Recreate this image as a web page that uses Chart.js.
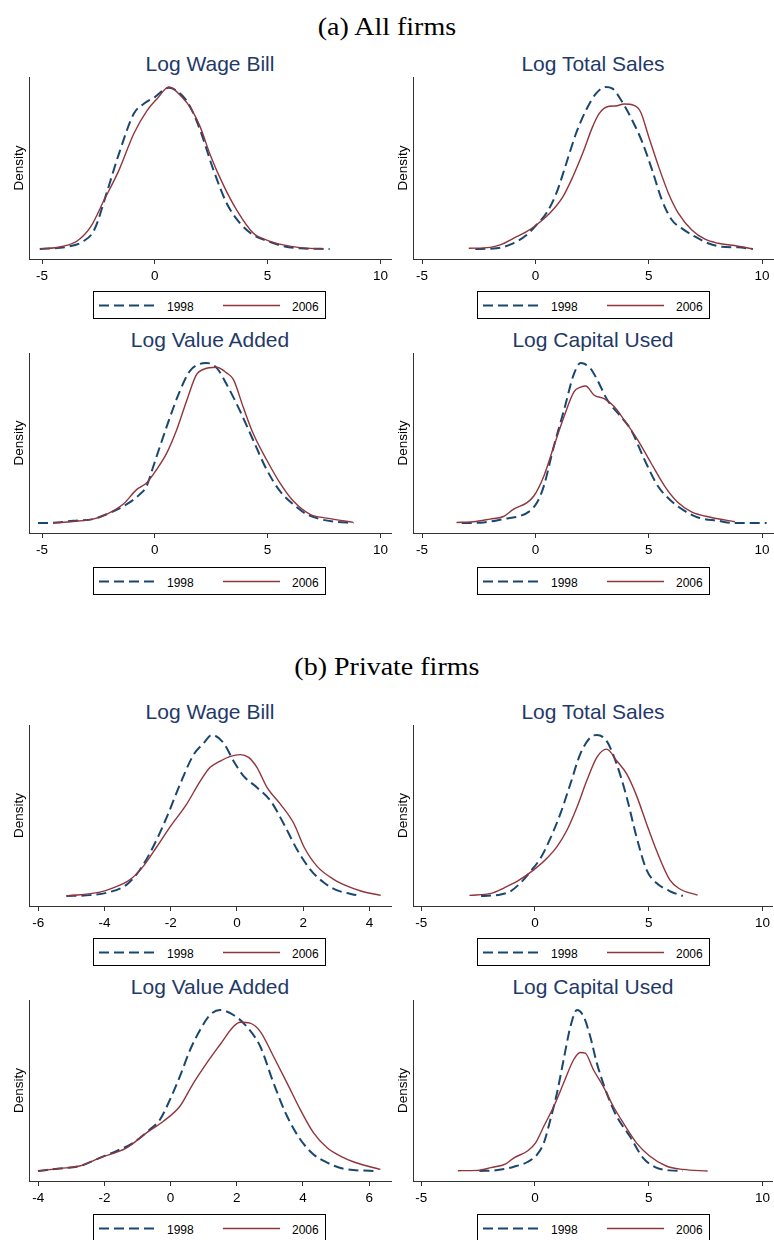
<!DOCTYPE html>
<html>
<head>
<meta charset="utf-8">
<script src="https://cdn.jsdelivr.net/npm/chart.js@4.4.0/dist/chart.umd.min.js"></script>
<style>
  body { margin: 0; width: 774px; height: 1240px; overflow: hidden; background: #fff; position: relative;
         font-family: "Liberation Sans", Arial, sans-serif; }
  canvas { position: absolute; }
  .head { position: absolute; left: 0; width: 774px; text-align: center; font-family: "Liberation Serif", "Times New Roman", serif;
          font-size: 25px; line-height: 25px; transform: scaleX(1.12); transform-origin: 388px 0; color: #000; }
  .ptitle { position: absolute; text-align: center; color: #1f3a68; font-size: 21px; line-height: 21px; white-space: nowrap; }
  .legend { position: absolute; width: 233px; height: 28px; }
</style>
</head>
<body>
<script>
// series labels and panel text
var years = ['1998', '2006'];
var sectionHeads = ['(a) All firms', '(b) Private firms'];
var varTitles = ['Log Wage Bill', 'Log Total Sales', 'Log Value Added', 'Log Capital Used'];

// x tick labels
var ticksAll = [-5, 0, 5, 10];
var ticksWagePriv = [-6, -4, -2, 0, 2, 4];
var ticksVAPriv = [-4, -2, 0, 2, 4, 6];

// kernel density curves, [log value, density relative to the 1998 peak]
var allWage1998 = [[-5.1,0],[-3.87,0.014],[-3.2,0.045],[-2.69,0.117],[-2.1,0.363],[-1.59,0.589],[-0.93,0.836],[-0.49,0.897],[0,0.938],[0.62,0.996],[1.2,0.949],[1.57,0.877],[2.01,0.733],[2.6,0.487],[3.19,0.281],[3.78,0.158],[4.37,0.086],[4.96,0.051],[5.69,0.018],[6.43,0.004],[7.75,0]];
var allWage2006 = [[-5.1,0],[-4.16,0.014],[-3.43,0.051],[-2.84,0.138],[-2.25,0.302],[-1.59,0.487],[-0.93,0.713],[-0.34,0.856],[0.1,0.928],[0.62,1],[1.2,0.938],[1.65,0.856],[2.01,0.754],[2.46,0.579],[3.04,0.394],[3.63,0.24],[4.37,0.097],[4.96,0.055],[5.69,0.025],[6.43,0.008],[7.46,0]];

var allSales1998 = [[-2.65,0],[-1.71,0.004],[-0.98,0.035],[-0.39,0.086],[0.04,0.148],[0.48,0.22],[0.92,0.343],[1.36,0.528],[1.79,0.713],[2.23,0.856],[2.67,0.959],[3.1,1],[3.4,0.99],[3.83,0.908],[4.27,0.795],[4.71,0.661],[5.15,0.487],[5.58,0.302],[6.02,0.179],[6.46,0.127],[7.04,0.076],[7.62,0.035],[8.21,0.014],[8.94,0.01],[9.59,0]];
var allSales2006 = [[-2.94,0.004],[-2,0.01],[-1.56,0.025],[-0.83,0.076],[-0.39,0.107],[0.04,0.148],[0.63,0.22],[1.21,0.322],[1.65,0.446],[2.08,0.589],[2.52,0.754],[2.81,0.836],[3.25,0.881],[3.54,0.883],[3.91,0.895],[4.35,0.887],[4.64,0.846],[5,0.692],[5.44,0.507],[5.87,0.343],[6.31,0.22],[6.9,0.117],[7.48,0.06],[8.06,0.035],[8.79,0.021],[9.59,0]];

var allVA1998 = [[-5.18,0],[-4.51,0.002],[-3.62,0.014],[-2.74,0.025],[-2.14,0.055],[-1.26,0.117],[-0.67,0.179],[-0.37,0.23],[-0.07,0.353],[0.22,0.476],[0.67,0.661],[1.11,0.825],[1.55,0.949],[2,0.994],[2.29,1],[2.74,0.969],[3.18,0.867],[3.77,0.702],[4.36,0.517],[4.96,0.333],[5.55,0.199],[6.14,0.117],[6.73,0.055],[7.32,0.025],[7.91,0.01],[8.8,0]];
var allVA2006 = [[-4.51,0],[-3.62,0.01],[-2.74,0.025],[-2.14,0.055],[-1.41,0.117],[-0.81,0.209],[-0.37,0.25],[0.07,0.333],[0.52,0.435],[0.96,0.579],[1.41,0.764],[1.85,0.928],[2.14,0.959],[2.74,0.973],[3.18,0.938],[3.48,0.897],[3.92,0.723],[4.36,0.559],[4.96,0.394],[5.55,0.25],[6.14,0.138],[6.88,0.055],[7.62,0.031],[8.8,0.004]];

var allCap1998 = [[-3.25,0],[-2.29,0.004],[-1.41,0.025],[-0.67,0.045],[-0.3,0.07],[0.07,0.128],[0.37,0.231],[0.81,0.478],[1.26,0.705],[1.7,0.932],[2,1],[2.44,0.963],[2.74,0.891],[3.18,0.767],[3.77,0.664],[4.22,0.581],[4.81,0.396],[5.4,0.231],[5.99,0.138],[6.58,0.076],[7.17,0.035],[8.06,0.014],[8.8,0],[10.2,0]];
var allCap2006 = [[-3.48,0.004],[-2.74,0.008],[-2,0.025],[-1.41,0.041],[-0.96,0.087],[-0.37,0.128],[-0.07,0.169],[0.37,0.293],[0.81,0.478],[1.26,0.664],[1.7,0.819],[2,0.849],[2.22,0.856],[2.59,0.798],[3.03,0.777],[3.48,0.726],[3.92,0.643],[4.51,0.52],[5.1,0.375],[5.7,0.231],[6.29,0.128],[6.88,0.07],[7.77,0.035],[8.8,0.008]];

var privWage1998 = [[-5.15,0],[-4.55,0.004],[-3.94,0.02],[-3.33,0.071],[-2.93,0.163],[-2.53,0.306],[-2.12,0.49],[-1.72,0.694],[-1.31,0.878],[-1.01,0.949],[-0.76,1],[-0.4,0.949],[-0.1,0.837],[0.2,0.745],[0.61,0.673],[1.01,0.592],[1.41,0.449],[1.82,0.286],[2.22,0.163],[2.63,0.082],[3.03,0.035],[3.64,0.004]];
var privWage2006 = [[-5.15,0],[-4.14,0.024],[-3.74,0.051],[-3.23,0.102],[-2.83,0.184],[-2.42,0.306],[-2.02,0.429],[-1.52,0.571],[-1.11,0.714],[-0.81,0.8],[-0.51,0.837],[-0.2,0.867],[0.1,0.878],[0.35,0.861],[0.61,0.796],[0.91,0.673],[1.31,0.571],[1.72,0.449],[2.02,0.306],[2.42,0.184],[2.93,0.102],[3.33,0.061],[3.74,0.031],[4.34,0.004]];

var privSales1998 = [[-2.37,0],[-1.5,0.01],[-1.06,0.031],[-0.63,0.082],[-0.19,0.154],[0.25,0.236],[0.68,0.359],[1.12,0.512],[1.56,0.697],[1.99,0.881],[2.43,0.984],[2.72,1],[3.15,0.963],[3.59,0.82],[4.03,0.615],[4.46,0.369],[4.9,0.164],[5.33,0.082],[5.92,0.031],[6.5,0]];
var privSales2006 = [[-2.88,0.004],[-1.93,0.016],[-1.35,0.051],[-0.77,0.092],[-0.04,0.164],[0.54,0.236],[0.97,0.307],[1.41,0.41],[1.85,0.553],[2.28,0.717],[2.72,0.861],[3.15,0.912],[3.59,0.84],[4.03,0.758],[4.46,0.625],[4.9,0.451],[5.33,0.287],[5.92,0.102],[6.35,0.045],[7.15,0.006]];

var privVA1998 = [[-4.01,0],[-3.35,0.016],[-2.75,0.031],[-2.14,0.082],[-1.64,0.124],[-1.13,0.175],[-0.63,0.258],[-0.32,0.32],[-0.02,0.443],[0.28,0.588],[0.59,0.753],[0.89,0.876],[1.19,0.969],[1.49,1],[1.9,0.969],[2.3,0.897],[2.71,0.773],[3.11,0.546],[3.52,0.34],[3.92,0.196],[4.32,0.103],[4.73,0.052],[5.23,0.014],[6.14,0]];
var privVA2006 = [[-4.01,0],[-3.35,0.016],[-2.75,0.031],[-2.14,0.082],[-1.33,0.144],[-0.73,0.237],[-0.22,0.309],[0.28,0.402],[0.69,0.546],[1.09,0.67],[1.49,0.784],[1.9,0.897],[2.1,0.924],[2.4,0.918],[2.71,0.866],[3.11,0.711],[3.52,0.546],[3.92,0.381],[4.32,0.237],[4.73,0.144],[5.13,0.093],[5.54,0.056],[5.94,0.031],[6.34,0.01]];

var privCap1998 = [[-2.44,0],[-1.64,0.006],[-0.92,0.027],[-0.33,0.056],[0.1,0.103],[0.39,0.175],[0.68,0.32],[0.97,0.485],[1.26,0.691],[1.56,0.897],[1.85,1],[2.14,0.959],[2.43,0.835],[2.72,0.67],[3.15,0.485],[3.59,0.34],[4.17,0.216],[4.75,0.082],[5.33,0.021],[5.92,0.004],[6.5,0]];
var privCap2006 = [[-3.39,0.002],[-2.51,0.004],[-1.93,0.021],[-1.28,0.045],[-0.92,0.082],[-0.33,0.124],[0.03,0.175],[0.39,0.278],[0.83,0.402],[1.26,0.546],[1.7,0.691],[1.99,0.736],[2.21,0.732],[2.57,0.629],[3,0.526],[3.44,0.402],[3.88,0.299],[4.46,0.175],[5.04,0.093],[5.77,0.031],[6.5,0.01],[7.59,0]];

var blue = '#1a476f';
var red = '#90353b';
var axisColor = '#333';

// page layout: plot-area rows (y-axis top / x-axis line) and columns
var rows = [
  { top: 77, bottom: 259, legend: 291 },
  { top: 353, bottom: 533, legend: 567 },
  { top: 725, bottom: 906, legend: 938 },
  { top: 1000, bottom: 1181, legend: 1214 }
];
var cols = [
  { canvasLeft: 0, canvasWidth: 392, legendLeft: 93 },
  { canvasLeft: 384, canvasWidth: 390, legendLeft: 477 }
];
var headTops = [14, 654];

var panels = [
  { row: 0, col: 0, title: varTitles[0], s98: allWage1998, s06: allWage2006, ticks: ticksAll, xmin: -5.58, xmax: 10.47 },
  { row: 0, col: 1, title: varTitles[1], s98: allSales1998, s06: allSales2006, ticks: ticksAll, xmin: -5.4, xmax: 10.48 },
  { row: 1, col: 0, title: varTitles[2], s98: allVA1998, s06: allVA2006, ticks: ticksAll, xmin: -5.58, xmax: 10.47 },
  { row: 1, col: 1, title: varTitles[3], s98: allCap1998, s06: allCap2006, ticks: ticksAll, xmin: -5.4, xmax: 10.48 },
  { row: 2, col: 0, title: varTitles[0], s98: privWage1998, s06: privWage2006, ticks: ticksWagePriv, xmin: -6.28, xmax: 4.65 },
  { row: 2, col: 1, title: varTitles[1], s98: privSales1998, s06: privSales2006, ticks: ticksAll, xmin: -5.36, xmax: 10.42 },
  { row: 3, col: 0, title: varTitles[2], s98: privVA1998, s06: privVA2006, ticks: ticksVAPriv, xmin: -4.28, xmax: 6.66 },
  { row: 3, col: 1, title: varTitles[3], s98: privCap1998, s06: privCap2006, ticks: ticksAll, xmin: -5.36, xmax: 10.42 }
];

function toPoints(arr) {
  return arr.map(function (p) { return { x: p[0], y: p[1] }; });
}

sectionHeads.forEach(function (txt, i) {
  var h = document.createElement('div');
  h.className = 'head';
  h.style.top = headTops[i] + 'px';
  h.textContent = txt;
  document.body.appendChild(h);
});

var padTop = 5, xAxisH = 30, yAxisW = 29;

panels.forEach(function (p) {
  var r = rows[p.row], c = cols[p.col];
  var plotLeft = c.canvasLeft + yAxisW;
  var plotRight = c.canvasLeft + c.canvasWidth - 1;

  // panel title, centred over the plot area
  var t = document.createElement('div');
  t.className = 'ptitle';
  t.style.left = plotLeft + 'px';
  t.style.width = (plotRight - plotLeft) + 'px';
  t.style.top = (r.top - 6 - 17.8) + 'px';
  t.textContent = p.title;
  document.body.appendChild(t);

  var cv = document.createElement('canvas');
  cv.width = c.canvasWidth;
  cv.height = padTop + (r.bottom - r.top) + xAxisH;
  cv.style.left = c.canvasLeft + 'px';
  cv.style.top = (r.top - padTop) + 'px';
  document.body.appendChild(cv);

  var peak = Math.max.apply(null, p.s98.concat(p.s06).map(function (d) { return d[1]; }));
  var pad = 0.062 * peak;

  new Chart(cv.getContext('2d'), {
    type: 'line',
    data: {
      datasets: [
        { label: years[0], data: toPoints(p.s98), borderColor: blue, borderWidth: 2, borderDash: [10, 5],
          pointRadius: 0, fill: false, cubicInterpolationMode: 'monotone', order: 1 },
        { label: years[1], data: toPoints(p.s06), borderColor: red, borderWidth: 1.4,
          pointRadius: 0, fill: false, cubicInterpolationMode: 'monotone', order: 0 }
      ]
    },
    options: {
      responsive: false,
      animation: false,
      events: [],
      layout: { padding: { left: 0, right: 1, top: padTop, bottom: 0 } },
      plugins: { legend: { display: false }, tooltip: { enabled: false } },
      scales: {
        x: {
          type: 'linear',
          min: p.xmin,
          max: p.xmax,
          afterBuildTicks: function (s) { s.ticks = p.ticks.map(function (v) { return { value: v }; }); },
          afterFit: function (s) { s.height = xAxisH; },
          ticks: { autoSkip: false, maxRotation: 0, padding: 4, color: '#000',
                   font: { family: '"Liberation Sans", Arial, sans-serif', size: 13.5 } },
          grid: { display: true, drawOnChartArea: false, drawTicks: true, tickLength: 5, color: axisColor },
          border: { display: true, color: axisColor, width: 1 }
        },
        y: {
          min: -pad,
          max: peak + pad,
          afterFit: function (s) { s.width = yAxisW; },
          ticks: { display: false },
          grid: { display: false },
          border: { display: true, color: axisColor, width: 1 },
          title: { display: true, text: 'Density', color: '#000', padding: { top: 11, bottom: 0 },
                   font: { family: '"Liberation Sans", Arial, sans-serif', size: 13.5 } }
        }
      }
    }
  });

  // legend box below each panel
  var lg = document.createElement('div');
  lg.className = 'legend';
  lg.style.left = c.legendLeft + 'px';
  lg.style.top = r.legend + 'px';
  lg.innerHTML =
    '<svg width="233" height="28" xmlns="http://www.w3.org/2000/svg" font-family="Liberation Sans, Arial, sans-serif" font-size="12">' +
    '<rect x="0.5" y="0.5" width="232" height="27" fill="#fff" stroke="#000" stroke-width="1"/>' +
    '<line x1="6" y1="14.5" x2="64" y2="14.5" stroke="' + blue + '" stroke-width="2" stroke-dasharray="10 5"/>' +
    '<text x="74" y="19.5" fill="#000">' + years[0] + '</text>' +
    '<line x1="130" y1="14.5" x2="187" y2="14.5" stroke="' + red + '" stroke-width="1.4"/>' +
    '<text x="199" y="19.5" fill="#000">' + years[1] + '</text>' +
    '</svg>';
  document.body.appendChild(lg);
});
</script>
</body>
</html>
